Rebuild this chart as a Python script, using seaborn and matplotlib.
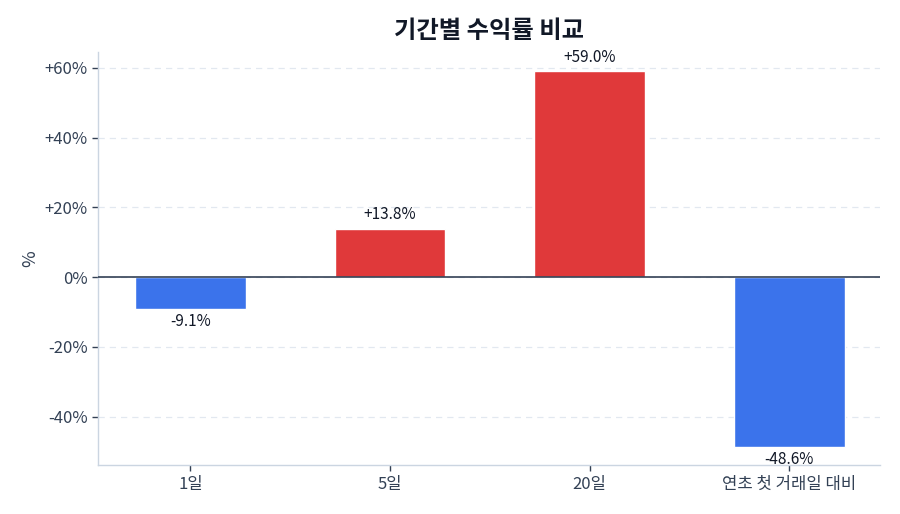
import matplotlib
matplotlib.use("Agg")
import matplotlib.pyplot as plt
import seaborn as sns
import pandas as pd

categories = ["1일", "5일", "20일", "연초 첫 거래일 대비"]
returns = [-9.1, 13.8, 59.0, -48.6]

sns.set_theme(style="white")
plt.rcParams['font.family'] = ['Noto Sans CJK KR', 'DejaVu Sans']

df = pd.DataFrame({"period": categories, "ret": returns})
colors = ["#e0393a" if v >= 0 else "#3b73eb" for v in returns]

fig, ax = plt.subplots(figsize=(9, 5.14), dpi=100)
fig.subplots_adjust(left=0.109, right=0.978, top=0.899, bottom=0.095)

sns.barplot(data=df, x="period", y="ret", hue="period", palette=colors,
            legend=False, width=0.555, ax=ax, saturation=1)

ax.axhline(0, color="#334155", linewidth=1.2, zorder=3)
ax.set_xlim(-0.4625, 3.455)
ax.set_ylim(min(returns) * 1.11, max(returns) * 1.095)
ticks = [-40, -20, 0, 20, 40, 60]
ax.set_yticks(ticks)
ax.set_yticklabels([f"{t:+d}%" if t != 0 else "0%" for t in ticks])
ax.yaxis.grid(True, linestyle=(0, (5, 4)), color="#e2e8f0", linewidth=0.9)
ax.set_axisbelow(True)

for i, v in enumerate(returns):
    txt = f"{v:+.1f}%"
    if v >= 0:
        ax.text(i, v + 1.6, txt, ha="center", va="bottom", fontsize=11, color="#111827")
    else:
        ax.text(i, v - 1.3, txt, ha="center", va="top", fontsize=11, color="#111827")

ax.set_title("기간별 수익률 비교", fontsize=17.5, fontweight="bold", color="#111827", pad=10)
ax.set_xlabel("")
ax.set_ylabel("%", fontsize=13, color="#334155", labelpad=4)
for s in ["top", "right"]:
    ax.spines[s].set_visible(False)
for s in ["left", "bottom"]:
    ax.spines[s].set_color("#cbd5e1")
    ax.spines[s].set_linewidth(1)
ax.tick_params(axis="both", colors="#334155", labelsize=12, length=4, width=1, left=True, bottom=True)

fig.savefig("out.png", dpi=100)
